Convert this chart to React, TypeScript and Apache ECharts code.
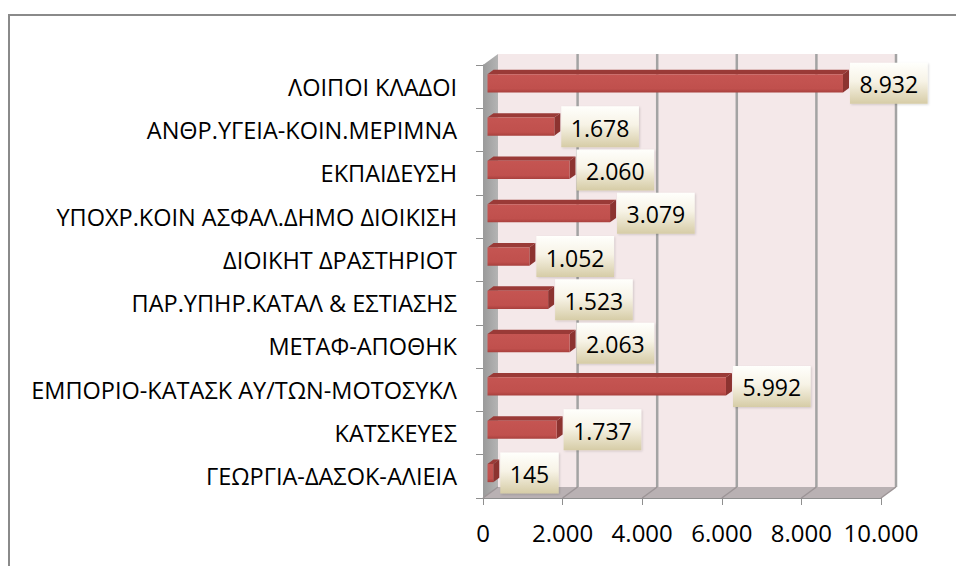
import React, { useEffect, useRef } from "react";
import * as echarts from "echarts";

// Categories listed bottom → top (category axis order)
const categories = [
  "ΓΕΩΡΓΙΑ-ΔΑΣΟΚ-ΑΛΙΕΙΑ",
  "ΚΑΤΣΚΕΥΕΣ",
  "ΕΜΠΟΡΙΟ-ΚΑΤΑΣΚ ΑΥ/ΤΩΝ-ΜΟΤΟΣΥΚΛ",
  "ΜΕΤΑΦ-ΑΠΟΘΗΚ",
  "ΠΑΡ.ΥΠΗΡ.ΚΑΤΑΛ & ΕΣΤΙΑΣΗΣ",
  "ΔΙΟΙΚΗΤ ΔΡΑΣΤΗΡΙΟΤ",
  "ΥΠΟΧΡ.ΚΟΙΝ ΑΣΦΑΛ.ΔΗΜΟ ΔΙΟΙΚΙΣΗ",
  "ΕΚΠΑΙΔΕΥΣΗ",
  "ΑΝΘΡ.ΥΓΕΙΑ-ΚΟΙΝ.ΜΕΡΙΜΝΑ",
  "ΛΟΙΠΟΙ ΚΛΑΔΟΙ",
];
const values = [145, 1737, 5992, 2063, 1523, 1052, 3079, 2060, 1678, 8932];
const xTicks = [0, 2000, 4000, 6000, 8000, 10000];
const xMin = 0;
const xMax = 10000;
const xInterval = 2000;

const FONT = "'Open Sans', 'Liberation Sans', sans-serif";
const DEPTH: [number, number] = [15, -11];

function fmt(v: number): string {
  return String(v).replace(/\B(?=(\d{3})+(?!\d))/g, ".");
}

let measureCtx: CanvasRenderingContext2D | null = null;
function textWidth(s: string, size: number): number {
  if (!measureCtx) {
    const c = document.createElement("canvas");
    measureCtx = c.getContext("2d");
  }
  if (!measureCtx) return s.length * size * 0.57;
  measureCtx.font = `${size}px ${FONT}`;
  return measureCtx.measureText(s).width;
}

export default function App() {
  const ref = useRef<HTMLDivElement>(null);

  useEffect(() => {
    if (!ref.current) return;
    const chart = echarts.init(ref.current, undefined, { renderer: "svg" });

    const wallsRender = (params: any, api: any) => {
      const cs = params.coordSys;
      const gx = cs.x, gy = cs.y, gw = cs.width, gh = cs.height;
      const [dx, dy] = DEPTH;
      const children: any[] = [];
      // back wall
      children.push({
        type: "polygon",
        shape: { points: [[gx + dx, gy + dy], [gx + gw + dx, gy + dy], [gx + gw + dx, gy + gh + dy], [gx + dx, gy + gh + dy]] },
        style: { fill: "#f4e8e9" },
      });
      // floor
      children.push({
        type: "polygon",
        shape: { points: [[gx, gy + gh], [gx + gw, gy + gh], [gx + gw + dx, gy + gh + dy], [gx + dx, gy + gh + dy]] },
        style: { fill: "#b9b1b3" },
      });
      // left wall
      children.push({
        type: "polygon",
        shape: { points: [[gx, gy], [gx + dx, gy + dy], [gx + dx, gy + gh + dy], [gx, gy + gh]] },
        style: {
          fill: new echarts.graphic.LinearGradient(0, 0, 1, 0, [
            { offset: 0, color: "#9a9a9a" },
            { offset: 1, color: "#b4b4b4" },
          ]),
        },
      });
      // gridlines
      xTicks.forEach((t) => {
        const x = api.coord([t, 0])[0];
        if (t !== xMin) {
          children.push({
            type: "line",
            shape: { x1: x + dx, y1: gy + dy, x2: x + dx, y2: gy + gh + dy },
            style: { stroke: "#a3a3a3", lineWidth: 2.5 },
          });
        }
        children.push({
          type: "line",
          shape: { x1: x, y1: gy + gh, x2: x + dx, y2: gy + gh + dy },
          style: { stroke: "#9c9496", lineWidth: 1.5 },
        });
      });
      return { type: "group", children };
    };

    const barsRender = (params: any, api: any) => {
      const v = api.value(0);
      const ci = api.value(1);
      const p0 = api.coord([0, ci]);
      const p1 = api.coord([v, ci]);
      const band = api.size([0, 1])[1];
      const h = band * 0.42;
      const fx = DEPTH[0] * 0.3, fy = DEPTH[1] * 0.3;
      const ddx = DEPTH[0] * 0.4, ddy = DEPTH[1] * 0.4;
      const x0 = p0[0] + fx;
      const x1 = p1[0] + fx;
      const cy = p0[1] + fy;
      const top = cy - h / 2;
      const bottom = cy + h / 2;
      const label = fmt(v);
      const fs = 23;
      const tw = textWidth(label, fs);
      const bw = tw + 19;
      const bh = 41;
      const bx = x1 + ddx + 1;
      return {
        type: "group",
        children: [
          {
            type: "polygon",
            shape: { points: [[x0, top], [x1, top], [x1 + ddx, top + ddy], [x0 + ddx, top + ddy]] },
            style: { fill: "#9a3a37" },
          },
          {
            type: "polygon",
            shape: { points: [[x1, top], [x1 + ddx, top + ddy], [x1 + ddx, bottom + ddy], [x1, bottom]] },
            style: { fill: "#8c3330" },
          },
          {
            type: "rect",
            shape: { x: x0, y: top, width: Math.max(x1 - x0, 0), height: h },
            style: {
              fill: new echarts.graphic.LinearGradient(0, 0, 0, 1, [
                { offset: 0, color: "#c55552" },
                { offset: 0.8, color: "#c0504d" },
                { offset: 1, color: "#a8403d" },
              ]),
            },
          },
          {
            type: "rect",
            shape: { x: bx, y: cy - bh / 2, width: bw, height: bh },
            style: {
              fill: new echarts.graphic.LinearGradient(0, 0, 0, 1, [
                { offset: 0, color: "#fffffc" },
                { offset: 0.45, color: "#f7f3e6" },
                { offset: 1, color: "#d6cca6" },
              ]),
              shadowBlur: 2,
              shadowOffsetX: 1,
              shadowOffsetY: 1,
              shadowColor: "rgba(0,0,0,0.15)",
            },
          },
          {
            type: "text",
            x: bx + bw / 2,
            y: cy + 1,
            style: {
              text: label,
              align: "center",
              verticalAlign: "middle",
              fontSize: fs,
              fontFamily: FONT,
              fill: "#000",
            },
          },
        ],
      };
    };

    chart.setOption({
      animation: false,
      backgroundColor: "#ffffff",
      graphic: [
        {
          type: "rect",
          shape: { x: 9, y: 15, width: 1000, height: 600 },
          style: { fill: "none", stroke: "#8a8a8a", lineWidth: 2 },
          silent: true,
        },
      ],
      grid: { left: 483, top: 65, width: 398, height: 433, containLabel: false },
      xAxis: {
        type: "value",
        min: xMin,
        max: xMax,
        interval: xInterval,
        axisLine: { show: true, lineStyle: { color: "#8f8f8f", width: 1 } },
        axisTick: { show: true, length: 7, lineStyle: { color: "#8f8f8f" } },
        splitLine: { show: false },
        axisLabel: {
          formatter: (v: number) => fmt(v),
          fontSize: 24,
          fontFamily: FONT,
          color: "#000",
          margin: 22,
        },
      },
      yAxis: {
        type: "category",
        data: categories,
        boundaryGap: true,
        axisLine: { show: true, lineStyle: { color: "#8f8f8f", width: 1 } },
        axisTick: { show: true, length: 7, interval: 0, lineStyle: { color: "#8f8f8f" } },
        splitLine: { show: false },
        axisLabel: {
          fontSize: 23.5,
          fontFamily: FONT,
          color: "#000",
          margin: 26,
          interval: 0,
        },
      },
      series: [
        {
          type: "custom",
          name: "walls",
          z: 1,
          silent: true,
          renderItem: wallsRender,
          data: [[0, 0]],
          encode: { x: 0, y: 1 },
        },
        {
          type: "custom",
          name: "values",
          z: 3,
          renderItem: barsRender,
          data: values.map((v, i) => [v, i]),
          encode: { x: 0, y: 1 },
        },
      ],
    });

    return () => chart.dispose();
  }, []);

  return (
    <div
      ref={ref}
      style={{ position: "fixed", left: 0, top: 0, width: 956, height: 566, background: "#fff" }}
    />
  );
}
